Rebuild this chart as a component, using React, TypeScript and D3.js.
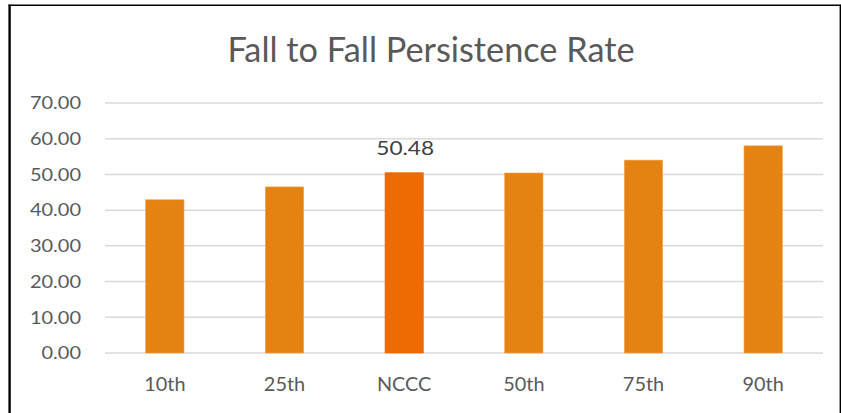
import React from "react";
import * as d3 from "d3";

const categories = ["10th", "25th", "NCCC", "50th", "75th", "90th"];
const values = [42.9, 46.5, 50.48, 50.4, 54.0, 58.0];
const highlight = "NCCC";
const yTicks = [0, 10, 20, 30, 40, 50, 60, 70];
const title = "Fall to Fall Persistence Rate";

export default function App() {
  const W = 841, H = 413;
  const x = d3.scaleBand<string>().domain(categories).range([105, 823]).paddingInner(0.68).paddingOuter(0.34);
  const y = d3.scaleLinear().domain([0, 70]).range([353, 103]);
  const font = "Lato, 'Open Sans', sans-serif";
  const tickFs = 17.7;
  const catFs = 19.5;
  const lblFs = 19.5;
  return (
    <svg width={W} height={H} style={{ position: "absolute", left: 0, top: 0 }}>
      <rect x={0} y={0} width={W} height={H} fill="#fff" />
      <line x1={9.6} x2={9.6} y1={4.7} y2={H} stroke="#000" strokeWidth={2.4} />
      <line x1={8.4} x2={W} y1={5.3} y2={5.3} stroke="#000" strokeWidth={1.4} />
      <line x1={840.3} x2={840.3} y1={4.7} y2={H} stroke="#000" strokeWidth={1.4} />
      <text x={431} y={61.7} textAnchor="middle" fontFamily={font} fontSize={35} fill="#595959"
        transform="translate(431,0) scale(0.98,1) translate(-431,0)">{title}</text>
      {yTicks.map(t => (
        <g key={t}>
          <line x1={105} x2={823} y1={y(t)} y2={y(t)} stroke="#d9d9d9" strokeWidth={1.5} />
          <text x={0} y={0} textAnchor="end" fontFamily={font} fontSize={tickFs} fill="#595959"
            transform={`translate(81,${y(t) + 0.358 * tickFs}) scale(1.13,1)`}>{t.toFixed(2)}</text>
        </g>
      ))}
      {categories.map((c, i) => {
        const cx = (x(c) as number) + x.bandwidth() / 2;
        return (
          <g key={c}>
            <rect x={x(c)} y={y(values[i])} width={x.bandwidth()} height={y(0) - y(values[i])}
              fill={c === highlight ? "#EE6A02" : "#E58312"} stroke={c === highlight ? "#EE6A02" : "#F0A050"} strokeWidth={0.6} />
            <text x={0} y={0} textAnchor="middle" fontFamily={font} fontSize={catFs} fill="#595959"
              transform={`translate(${cx},${383.7 + 0.358 * catFs}) scale(1.02,1)`}>{c}</text>
            {c === highlight && (
              <text x={0} y={0} textAnchor="middle" fontFamily={font} fontSize={lblFs} fill="#404040"
                transform={`translate(${cx + 1},${148 + 0.358 * lblFs}) scale(1.16,1)`}>{values[i].toFixed(2)}</text>
            )}
          </g>
        );
      })}
    </svg>
  );
}
